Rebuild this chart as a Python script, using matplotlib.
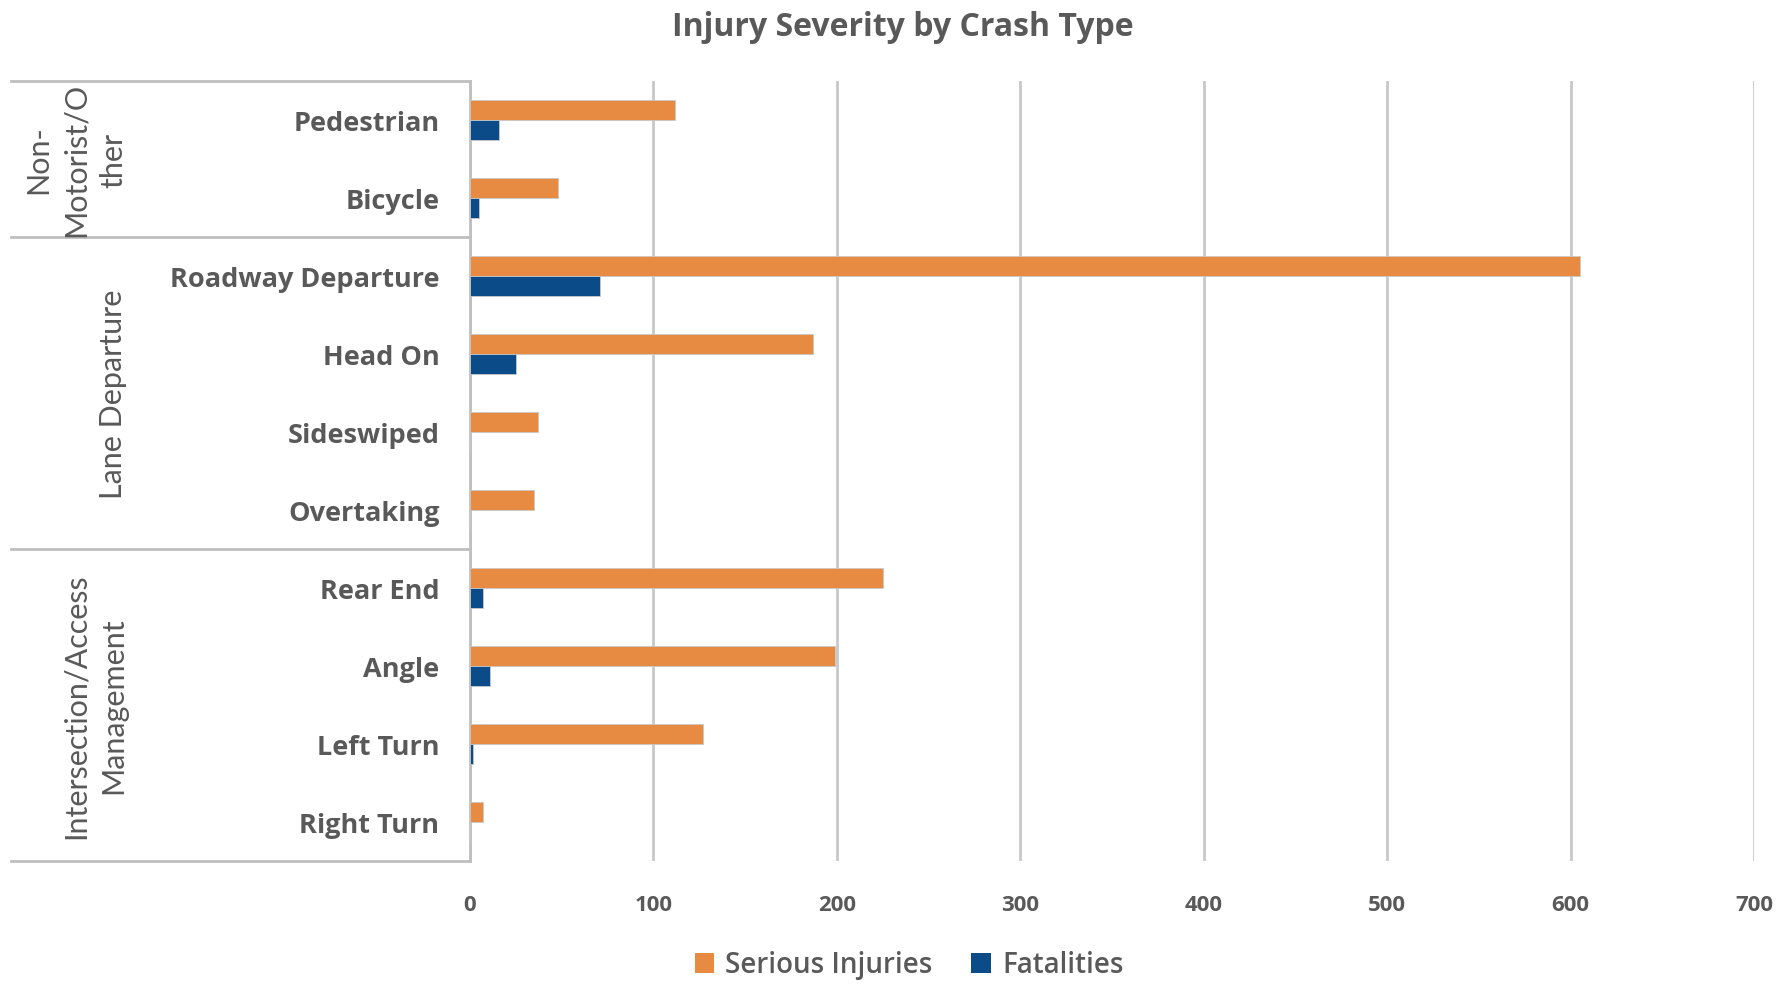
import matplotlib
matplotlib.use("Agg")
import matplotlib.pyplot as plt
from matplotlib.patches import Patch

# Datos
categorias = ["Pedestrian", "Bicycle", "Roadway Departure", "Head On",
              "Sideswiped", "Overtaking", "Rear End", "Angle",
              "Left Turn", "Right Turn"]
lesiones_graves = [112, 48, 605, 187, 37, 35, 225, 199, 127, 7]
fatalidades = [16, 5, 71, 25, 0, 0, 7, 11, 1.5, 0]

grupos = ["Non-\nMotorist/O\nther", "Lane Departure",
          "Intersection/Access\nManagement"]
tam_grupos = [2, 4, 4]

ticks_x = [0, 100, 200, 300, 400, 500, 600, 700]

naranja = "#E88B42"
azul = "#0B4C88"
gris_txt = "#595959"
gris_lin = "#BFBFBF"

W, H = 1785, 987
fig = plt.figure(figsize=(W / 100, H / 100), dpi=100)
x0, x1, y0, y1 = 470, 1754, 82, 862
ax = fig.add_axes([x0 / W, 1 - y1 / H, (x1 - x0) / W, (y1 - y0) / H])

n = len(categorias)
pos = list(range(n))
alto = 0.26
ax.barh([p - alto / 2 for p in pos], lesiones_graves, height=alto,
        color=naranja, edgecolor="#C8C8C8", linewidth=0.6, zorder=3)
ax.barh([p + alto / 2 for p in pos], fatalidades, height=alto,
        color=azul, edgecolor="#C8C8C8", linewidth=0.6, zorder=3)

ax.set_xlim(0, 700)
ax.set_ylim(n - 0.5, -0.5)
ax.set_xticks(ticks_x)
ax.set_xticklabels([str(t) for t in ticks_x], fontfamily="Open Sans",
                   fontweight="bold", fontsize=16, color=gris_txt)
ax.set_yticks(pos)
ax.set_yticklabels(categorias, fontfamily="Open Sans", fontweight="bold",
                   fontsize=19.5, color=gris_txt)
ax.tick_params(axis="x", length=0, pad=24)
ax.tick_params(axis="y", length=0, pad=22)
ax.grid(axis="x", color="#C8C8C8", linewidth=2, zorder=0)
for s in ["top", "right", "bottom"]:
    ax.spines[s].set_visible(False)
ax.spines["left"].set_color(gris_lin)
ax.spines["left"].set_linewidth(2)

# Líneas de la tabla de grupos
trans = ax.get_yaxis_transform()
x_izq = (11 - x0) / (x1 - x0)
limites = [-0.5]
for t in tam_grupos:
    limites.append(limites[-1] + t)
for b in limites:
    ax.plot([x_izq, 0], [b, b], color=gris_lin, linewidth=2,
            transform=trans, clip_on=False)

x_grp = (127 - x0) / (x1 - x0)
for g, a, b in zip(grupos, limites[:-1], limites[1:]):
    ax.text(x_grp, (a + b) / 2, g, rotation=90, transform=trans,
            ha="right", va="center", multialignment="center",
            fontfamily="Lato", fontsize=22, color=gris_txt,
            linespacing=1.4)

fig.text(903 / W, 1 - 27 / H, "Injury Severity by Crash Type",
         ha="center", va="center", fontfamily="Open Sans",
         fontweight="bold", fontsize=23, color=gris_txt)

handles = [Patch(facecolor=naranja, edgecolor="none"),
           Patch(facecolor=azul, edgecolor="none")]
fig.legend(handles, ["Serious Injuries", "Fatalities"], loc="center",
           bbox_to_anchor=(909 / W, 1 - 966 / H), ncol=2, frameon=False,
           prop={"family": "Open Sans", "weight": "semibold", "size": 20},
           labelcolor=gris_txt, handlelength=0.7, handleheight=0.7,
           handletextpad=0.4, columnspacing=1.4)

fig.savefig("out.png", dpi=100)
